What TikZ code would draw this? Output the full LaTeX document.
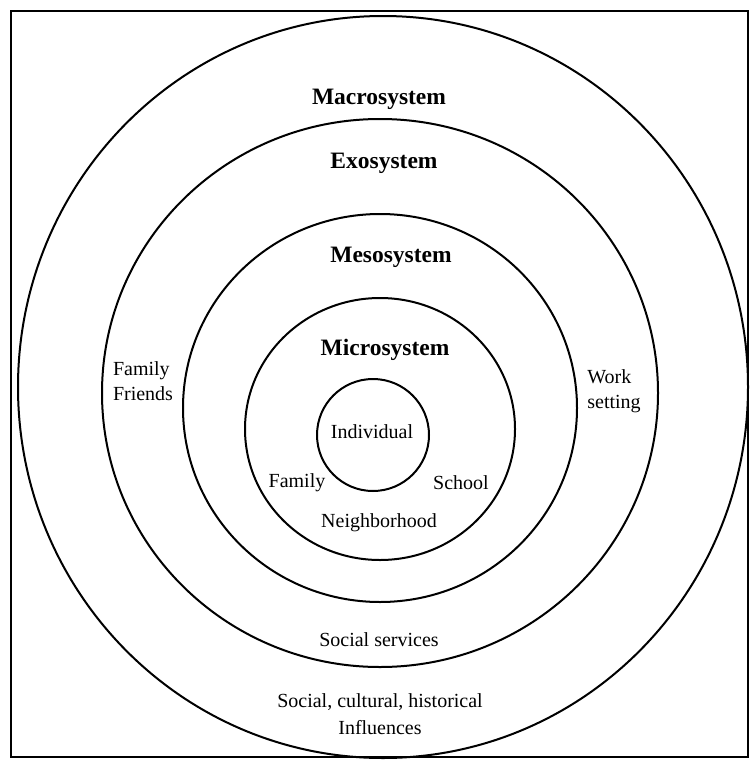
\documentclass[tikz,border=0pt]{standalone}
\usepackage{fontspec}
\setmainfont{Liberation Serif}
\begin{document}
\begin{tikzpicture}[x=0.5pt,y=-0.5pt,
  ring/.style={draw=black,line width=1pt},
  title/.style={font=\fontsize{11.75}{14}\selectfont\bfseries,inner sep=0pt},
  lbl/.style={font=\fontsize{10}{12.5}\selectfont,inner sep=0pt}]
\useasboundingbox (0,0) rectangle (751,760);
\draw[line width=1.3pt] (11,11) rectangle (748,757);
% rings
\draw[ring] (383,387) ellipse [x radius=365, y radius=371];
\draw[ring] (380,393) ellipse [x radius=278, y radius=274];
\draw[ring] (380,408) ellipse [x radius=197, y radius=194];
\draw[ring] (380,429) ellipse [x radius=135, y radius=131];
\draw[ring] (373,435) circle [radius=56];
% titles
\node[title] (macro) at (379,99) {Macrosystem};
\node[title] (exo) at (384,163) {Exosystem};
\node[title] (meso) at (391,257) {Mesosystem};
\node[title] (micro) at (385,350) {Microsystem};
% labels
\node[lbl] (indiv) at (372,432) {Individual};
\node[lbl] (fam) at (297,483) {Family};
\node[lbl] (school) at (461,483) {School};
\node[lbl] (neigh) at (379,523) {Neighborhood};
\node[lbl,align=left] (ff) at (143,381) {Family\\Friends};
\node[lbl,align=left] (work) at (614,391) {Work\\setting};
\node[lbl] (social) at (379,640) {Social services};
\node[lbl,align=center,font=\fontsize{10}{13.5}\selectfont] (infl) at (380,714) {Social, cultural, historical\\Influences};
\end{tikzpicture}
\end{document}
